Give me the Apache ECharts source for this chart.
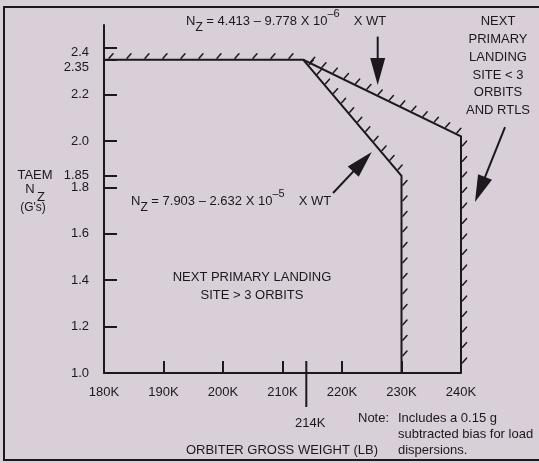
<!DOCTYPE html>
<html>
<head>
<meta charset="utf-8">
<script src="https://cdn.jsdelivr.net/npm/echarts@6/dist/echarts.min.js"></script>
<style>
html,body{margin:0;padding:0;background:#d8cfd9;}
#c{width:539px;height:463px;}
</style>
</head>
<body>
<div id="c"></div>
<script>
// ---- data ----
const xTickValues = [180, 190, 200, 210, 220, 230, 240];           // K lb
const yTickValues = [1.0, 1.2, 1.4, 1.6, 1.8, 1.85, 2.0, 2.2, 2.35, 2.4];
const yTickLabels = ['1.0', '1.2', '1.4', '1.6', '1.8', '1.85', '2.0', '2.2', '2.35', '2.4'];
// boundary: next primary landing site < 3 orbits and RTLS
const outerBoundaryX = [180, 213.5, 240, 240];
const outerBoundaryY = [2.35, 2.35, 2.02, 1.0];
// boundary: next primary landing site > 3 orbits
const innerBoundaryX = [213.5, 230, 230];
const innerBoundaryY = [2.35, 1.85, 1.0];
const markerWeight = 214;
const markerLabel = '214K';
// annotation arrows (tail -> tip), data units
const arrowTailX = [226.0, 218.5, 247.4];
const arrowTailY = [2.45, 1.776, 2.06];
const arrowTipX  = [226.0, 225.0, 242.35];
const arrowTipY  = [2.241, 1.953, 1.737];

// ---- styling ----
const FONT = '"Liberation Sans", Arial, Helvetica, sans-serif';
const INK = '#1c181c';
const boundaries = [
  { xs: outerBoundaryX, ys: outerBoundaryY },
  { xs: innerBoundaryX, ys: innerBoundaryY }
];

function renderBoundary(params, api) {
  const b = boundaries[params.dataIndex];
  const pts = b.xs.map((x, i) => api.coord([x, b.ys[i]]));
  const children = [{
    type: 'polyline', shape: { points: pts },
    style: { stroke: INK, lineWidth: 2, fill: null }
  }];
  for (let i = 0; i < pts.length - 1; i++) {
    const a = pts[i], c = pts[i + 1];
    const dx = c[0] - a[0], dy = c[1] - a[1];
    const L = Math.hypot(dx, dy);
    if (L < 1) continue;
    const tx = dx / L, ty = dy / L;
    let nx = ty, ny = -tx;
    if (nx - ny < 0) { nx = -nx; ny = -ny; }
    const horiz = Math.abs(ty) < 0.05, vert = Math.abs(tx) < 0.05;
    const step = horiz ? 18 : (vert ? 15.5 : 12.5);
    for (let s = horiz ? 5 : step * 0.6; s < L - 5; s += step) {
      const px = a[0] + tx * s + nx * 1.5, py = a[1] + ty * s + ny * 1.5;
      children.push({
        type: 'line', shape: { x1: px, y1: py, x2: px + 4, y2: py - 4.5 },
        style: { stroke: INK, lineWidth: 1.5, lineCap: 'round' }
      });
    }
  }
  return { type: 'group', children };
}

function renderArrow(params, api) {
  const a = api.coord([api.value(0), api.value(1)]);
  const b = api.coord([api.value(2), api.value(3)]);
  const dx = b[0] - a[0], dy = b[1] - a[1], L = Math.hypot(dx, dy);
  const ux = dx / L, uy = dy / L;
  const hl = 27, hw = 7.5;
  const bx = b[0] - ux * hl, by = b[1] - uy * hl;
  return {
    type: 'group', children: [
      { type: 'line', shape: { x1: a[0], y1: a[1], x2: bx + ux * 2, y2: by + uy * 2 },
        style: { stroke: INK, lineWidth: 2 } },
      { type: 'polygon', shape: { points: [b, [bx - uy * hw, by + ux * hw], [bx + uy * hw, by - ux * hw]] },
        style: { fill: INK } }
    ]
  };
}

function renderMarker(params, api) {
  const p = api.coord([api.value(0), api.value(1)]);
  return {
    type: 'group', children: [
      { type: 'line', shape: { x1: p[0], y1: p[1] - 12, x2: p[0], y2: p[1] + 34 },
        style: { stroke: INK, lineWidth: 2 } },
      { type: 'text', x: p[0] + 4, y: p[1] + 50,
        style: { text: markerLabel, fill: INK, font: '13px ' + FONT, align: 'center', verticalAlign: 'middle' } }
    ]
  };
}

const txt = (x, y, text, extra) => Object.assign({
  type: 'text', x, y,
  style: Object.assign({ text, fill: INK, font: '13px ' + FONT, align: 'left', verticalAlign: 'middle' }, extra || {})
});

const formulaRich = {
  n: { fontSize: 13, fontFamily: FONT, lineHeight: 26, verticalAlign: 'middle' },
  s: { fontSize: 12, fontFamily: FONT, lineHeight: 12, verticalAlign: 'bottom' },
  m: { fontSize: 13, fontFamily: FONT, lineHeight: 16, verticalAlign: 'middle' },
  p: { fontSize: 11, fontFamily: FONT, lineHeight: 16, verticalAlign: 'top' },
  w: { fontSize: 13, fontFamily: FONT, lineHeight: 16, verticalAlign: 'middle', padding: [0, 0, 0, 14] }
};

const chart = echarts.init(document.getElementById('c'));
chart.setOption({
  backgroundColor: '#d8cfd9',
  animation: false,
  grid: { left: 104, right: 78, top: 25, bottom: 90, containLabel: false },
  xAxis: {
    type: 'value', min: 180, max: 240, interval: 10,
    axisLine: { show: true, onZero: false, lineStyle: { color: INK, width: 2 } },
    axisTick: { show: true, inside: true, length: 12, lineStyle: { color: INK, width: 2 } },
    axisLabel: { color: INK, fontSize: 13, fontFamily: FONT, margin: 13,
      formatter: v => (xTickValues.indexOf(v) >= 0 ? v + 'K' : '') },
    splitLine: { show: false }
  },
  yAxis: {
    type: 'value', min: 1.0, max: 2.5,
    axisLine: { show: true, onZero: false, lineStyle: { color: INK, width: 2 } },
    axisTick: { show: true, inside: true, length: 13, customValues: yTickValues,
      lineStyle: { color: INK, width: 2 } },
    axisLabel: {
      customValues: yTickValues, color: INK, fontSize: 13, fontFamily: FONT, margin: 15,
      formatter: v => {
        const i = yTickValues.findIndex(t => Math.abs(t - v) < 1e-6);
        const s = i >= 0 ? yTickLabels[i] : '';
        if (s === '2.35') return '{lo|' + s + '}';
        if (s === '2.4') return '{hi|' + s + '}';
        return s;
      },
      rich: {
        lo: { fontSize: 13, fontFamily: FONT, color: INK, padding: [16, 0, 0, 0] },
        hi: { fontSize: 13, fontFamily: FONT, color: INK, padding: [8, 0, 0, 0] }
      }
    },
    splitLine: { show: false }
  },
  series: [
    { type: 'custom', name: 'boundaries', renderItem: renderBoundary, clip: false,
      data: boundaries.map((b, i) => [b.xs[0], b.ys[0]]) },
    { type: 'custom', name: 'arrows', renderItem: renderArrow, clip: false,
      encode: { x: [0, 2], y: [1, 3] },
      data: arrowTailX.map((x, i) => [x, arrowTailY[i], arrowTipX[i], arrowTipY[i]]) },
    { type: 'custom', name: 'marker', renderItem: renderMarker, clip: false,
      data: [[markerWeight, 1.0]] }
  ],
  graphic: [
    { type: 'rect', shape: { x: 4, y: 7, width: 560, height: 453 },
      style: { fill: null, stroke: INK, lineWidth: 2 }, z: -1 },
    txt(186, 21, '{n|N}{s|Z}{m| = 4.413 – 9.778 X 10}{p|–6}{w|X WT}', { rich: formulaRich }),
    txt(131, 201, '{n|N}{s|Z}{m| = 7.903 – 2.632 X 10}{p|–5}{w|X WT}', { rich: formulaRich }),
    txt(498, 13, 'NEXT\nPRIMARY\nLANDING\nSITE < 3\nORBITS\nAND RTLS',
      { align: 'center', verticalAlign: 'top', lineHeight: 17.7 }),
    txt(252, 268, 'NEXT PRIMARY LANDING\nSITE > 3 ORBITS',
      { align: 'center', verticalAlign: 'top', lineHeight: 18 }),
    txt(35, 175, 'TAEM', { align: 'center' }),
    txt(30, 189, 'N', { align: 'center' }),
    txt(41, 197, 'Z', { align: 'center' }),
    txt(33, 208, "(G's)", { align: 'center', font: '12px ' + FONT }),
    txt(282, 450, 'ORBITER GROSS WEIGHT (LB)', { align: 'center' }),
    txt(358, 418, 'Note:'),
    txt(398, 410, 'Includes a 0.15 g\nsubtracted bias for load\ndispersions.',
      { verticalAlign: 'top', lineHeight: 16 })
  ]
});
</script>
</body>
</html>
